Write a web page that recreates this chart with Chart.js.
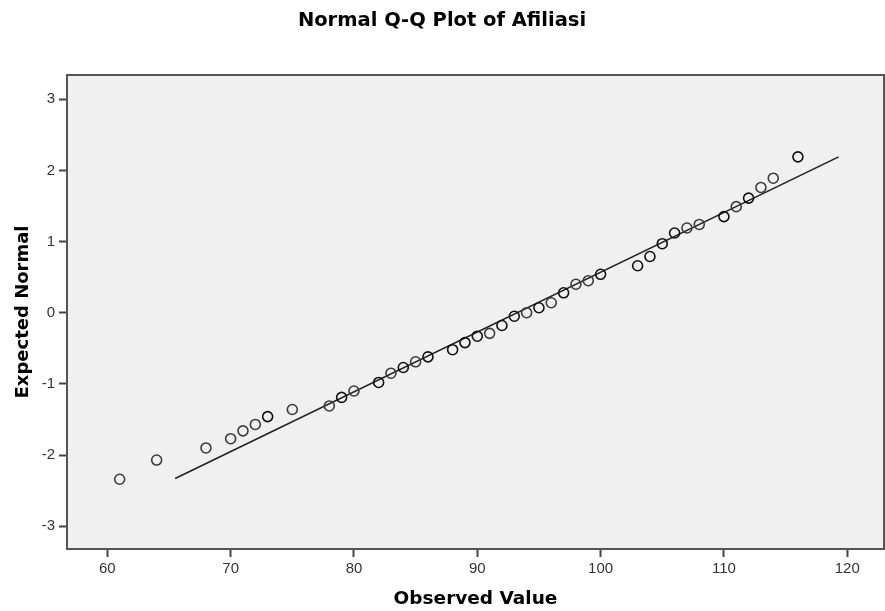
<!DOCTYPE html>
<html>
<head>
<meta charset="utf-8">
<title>Normal Q-Q Plot of Afiliasi</title>
<script src="https://cdn.jsdelivr.net/npm/chart.js@4"></script>
<style>
  html, body { margin: 0; padding: 0; background: #ffffff; }
  #wrap { width: 885px; height: 611px; position: relative; }
</style>
</head>
<body>
<div id="wrap"><canvas id="qq"></canvas></div>
<script>
// === DATA ===
// observed values (x), expected normal scores (y), number of cases at each value
var OBSERVED = [61, 64, 68, 70, 71, 72, 73, 75, 78, 79, 80, 82, 83, 84, 85, 86, 88, 89, 90, 91,
                92, 93, 94, 95, 96, 97, 98, 99, 100, 103, 104, 105, 106, 107, 108, 110, 111, 112, 113, 114, 116];
var EXPECTED = [-2.34, -2.07, -1.90, -1.77, -1.66, -1.57, -1.46, -1.36, -1.31, -1.19, -1.10, -0.98, -0.85, -0.77, -0.69, -0.62, -0.52, -0.42, -0.33, -0.29,
                -0.18, -0.05, 0.00, 0.07, 0.14, 0.28, 0.40, 0.45, 0.54, 0.66, 0.79, 0.97, 1.12, 1.19, 1.24, 1.35, 1.49, 1.61, 1.76, 1.89, 2.19];
var CASES    = [1, 1, 1, 1, 1, 1, 2, 1, 1, 2, 1, 2, 1, 2, 1, 2, 2, 2, 2, 1,
                2, 2, 1, 2, 1, 2, 1, 1, 2, 2, 2, 2, 2, 1, 1, 2, 1, 2, 1, 1, 2];

// reference line end points
var LINE_X = [65.5, 119.3];
var LINE_Y = [-2.33, 2.19];

var X_TICKS = [60, 70, 80, 90, 100, 110, 120];
var Y_TICKS = [-3, -2, -1, 0, 1, 2, 3];

(function () {
  'use strict';

  var AXIS_COLOR = '#444444';
  var TICK_FONT  = { family: 'Liberation Sans', size: 15 };

  var points = OBSERVED.map(function (x, i) { return { x: x, y: EXPECTED[i] }; });
  var line   = LINE_X.map(function (x, i) { return { x: x, y: LINE_Y[i] }; });

  // plot area background + frame
  var plotFrame = {
    id: 'plotFrame',
    beforeDatasetsDraw: function (chart) {
      var a = chart.chartArea, c = chart.ctx;
      c.save();
      c.fillStyle = '#f0f0f0';
      c.fillRect(a.left, a.top, a.right - a.left, a.bottom - a.top);
      c.strokeStyle = '#555555';
      c.lineWidth = 2;
      c.strokeRect(a.left, a.top, a.right - a.left, a.bottom - a.top);
      c.restore();
    }
  };

  var canvas = document.getElementById('qq');
  new Chart(canvas.getContext('2d'), {
    type: 'scatter',
    data: {
      datasets: [
        {
          data: line,
          showLine: true,
          borderColor: '#222222',
          borderWidth: 1.6,
          pointRadius: 0,
          order: 2
        },
        {
          data: points,
          pointStyle: 'circle',
          pointRadius: 5,
          pointBorderWidth: 1.6,
          pointBackgroundColor: 'rgba(0,0,0,0)',
          pointBorderColor: function (c) { return CASES[c.dataIndex] > 1 ? '#111111' : '#3c3c3c'; },
          order: 1
        }
      ]
    },
    options: {
      responsive: true,
      maintainAspectRatio: false,
      animation: false,
      layout: { autoPadding: false, padding: { left: 0, right: 1, top: 0, bottom: 0 } },
      plugins: {
        legend:  { display: false },
        tooltip: { enabled: false },
        title: {
          display: true,
          text: 'Normal Q-Q Plot of Afiliasi',
          color: '#000000',
          font: { family: 'DejaVu Sans', size: 19.5, weight: 'bold' },
          padding: { top: 9, bottom: 42.6 }
        }
      },
      scales: {
        x: {
          type: 'linear',
          min: 56.73,
          max: 122.98,
          afterFit: function (s) { s.height = 62; s.paddingLeft = 0; s.paddingRight = 0; },
          afterBuildTicks: function (s) { s.ticks = X_TICKS.map(function (v) { return { value: v }; }); },
          grid:   { drawOnChartArea: false, drawTicks: true, tickLength: 8, tickColor: AXIS_COLOR, tickWidth: 2 },
          border: { display: true, color: AXIS_COLOR, width: 2 },
          ticks:  { font: TICK_FONT, color: '#333333', padding: 3, maxRotation: 0, includeBounds: false },
          title:  { display: true, text: 'Observed Value', color: '#000000',
                    font: { family: 'DejaVu Sans', size: 18.5, weight: 'bold' }, padding: { top: 0, bottom: 1 } }
        },
        y: {
          type: 'linear',
          min: -3.32,
          max: 3.34,
          afterFit: function (s) { s.width = 67; s.paddingTop = 0; s.paddingBottom = 0; },
          afterBuildTicks: function (s) { s.ticks = Y_TICKS.map(function (v) { return { value: v }; }); },
          grid:   { drawOnChartArea: false, drawTicks: true, tickLength: 8, tickColor: AXIS_COLOR, tickWidth: 2 },
          border: { display: true, color: AXIS_COLOR, width: 2 },
          ticks:  { font: TICK_FONT, color: '#333333', padding: 4, includeBounds: false },
          title:  { display: true, text: 'Expected Normal', color: '#000000',
                    font: { family: 'DejaVu Sans', size: 18, weight: 'bold' }, padding: { top: 12.7, bottom: 0 } }
        }
      }
    },
    plugins: [plotFrame]
  });
}());
</script>
</body>
</html>
